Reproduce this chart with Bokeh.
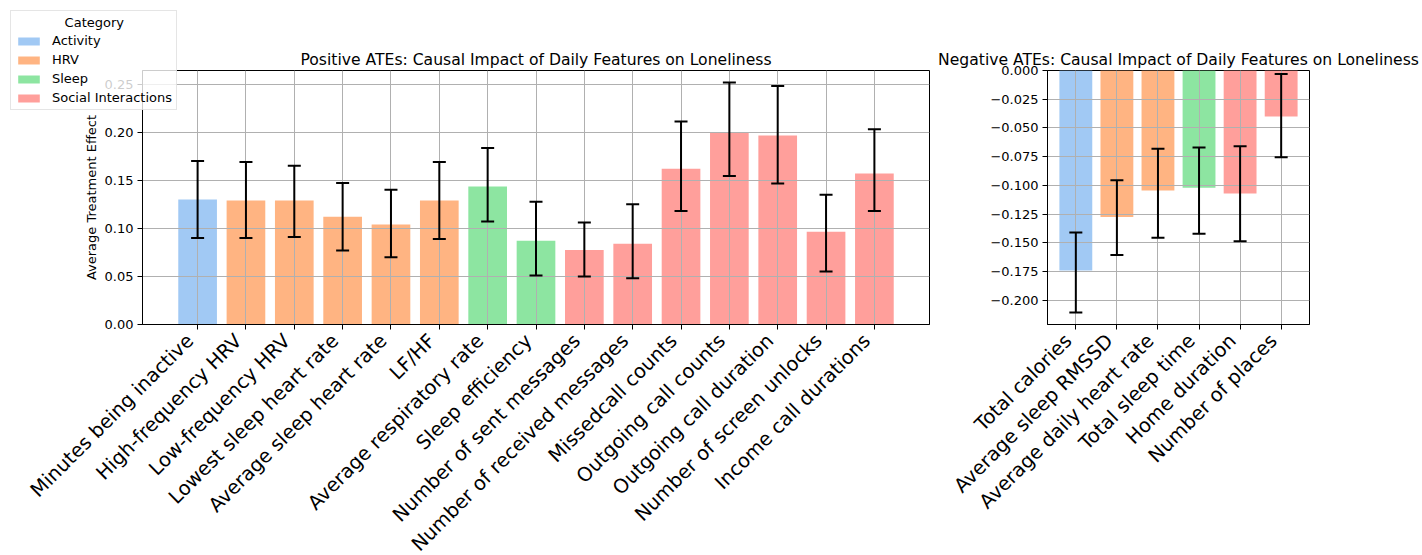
from math import pi

from bokeh.plotting import figure
from bokeh.models import (ColumnDataSource, Range1d, FixedTicker, Whisker, TeeHead,
                          CustomJSTickFormatter, GridBox, LinearAxis)
from bokeh.layouts import column
from bokeh.embed import file_html
from bokeh.resources import INLINE

# ---------------- data ----------------
pos_features = ["Minutes being inactive", "High-frequency HRV", "Low-frequency HRV",
                "Lowest sleep heart rate", "Average sleep heart rate", "LF/HF",
                "Average respiratory rate", "Sleep efficiency", "Number of sent messages",
                "Number of received messages", "Missedcall counts", "Outgoing call counts",
                "Outgoing call duration", "Number of screen unlocks", "Income call durations"]
pos_categories = ["Activity", "HRV", "HRV", "HRV", "HRV", "HRV", "Sleep", "Sleep",
                  "Social Interactions", "Social Interactions", "Social Interactions",
                  "Social Interactions", "Social Interactions", "Social Interactions",
                  "Social Interactions"]
pos_ate = [0.130, 0.129, 0.129, 0.112, 0.104, 0.129, 0.1435, 0.087, 0.0775, 0.084,
           0.162, 0.199, 0.1965, 0.0965, 0.157]
pos_lower = [0.090, 0.090, 0.091, 0.077, 0.070, 0.089, 0.107, 0.051, 0.050, 0.048,
             0.118, 0.1545, 0.1465, 0.055, 0.118]
pos_upper = [0.170, 0.169, 0.165, 0.147, 0.140, 0.169, 0.1835, 0.1275, 0.106, 0.125,
             0.211, 0.2515, 0.248, 0.135, 0.203]

neg_features = ["Total calories", "Average sleep RMSSD", "Average daily heart rate",
                "Total sleep time", "Home duration", "Number of places"]
neg_categories = ["Activity", "HRV", "HRV", "Sleep", "Social Interactions",
                  "Social Interactions"]
neg_ate = [-0.174, -0.1275, -0.1045, -0.102, -0.107, -0.040]
neg_lower = [-0.2105, -0.1605, -0.1455, -0.142, -0.1485, -0.0755]
neg_upper = [-0.141, -0.0955, -0.068, -0.067, -0.066, -0.003]

legend_categories = ["Activity", "HRV", "Sleep", "Social Interactions"]

pos_yticks = [0.0, 0.05, 0.10, 0.15, 0.20, 0.25]
neg_yticks = [0.0, -0.025, -0.05, -0.075, -0.10, -0.125, -0.15, -0.175, -0.20]

# ---------------- style ----------------
PALETTE = {"Activity": "#a1c9f4", "HRV": "#ffb482", "Sleep": "#8de5a1",
           "Social Interactions": "#ff9f9b"}
FONT = "DejaVu Sans"
FIG_H = 553
TOP = 70
FRAME_H = 254
BOTTOM = FIG_H - TOP - FRAME_H
P1_W = 930
LABEL_SHIFT_PX = 7.5   # rotated labels end slightly left of their tick (matplotlib style)


def make_panel(features, categories, ate, lower, upper, y_range, yticks, decimals,
               title, frame_w, b_left, b_right):
    n = len(features)
    src = ColumnDataSource(dict(
        x=list(range(n)), ate=ate, lower=lower, upper=upper,
        category=categories, color=[PALETTE[c] for c in categories]))
    margin = 0.05 * (n - 1 + 0.8)
    x0, x1 = -0.4 - margin, n - 1 + 0.4 + margin
    p = figure(frame_width=frame_w, frame_height=FRAME_H,
               min_border_left=b_left, min_border_right=b_right,
               min_border_top=TOP, min_border_bottom=BOTTOM,
               x_range=Range1d(x0, x1),
               y_range=y_range, output_backend="svg", toolbar_location=None,
               title=title)
    p.background_fill_color = "white"
    p.border_fill_color = "white"
    p.outline_line_color = "black"
    p.outline_line_width = 1
    p.outline_line_alpha = 1

    r = p.vbar(x="x", top="ate", bottom=0, width=0.8, source=src, color="color",
               line_color=None)
    r.level = "underlay"

    w = Whisker(source=src, base="x", upper="upper", lower="lower", dimension="height",
                line_color="black", line_width=2, level="annotation",
                upper_head=TeeHead(size=13, line_color="black", line_width=2),
                lower_head=TeeHead(size=13, line_color="black", line_width=2))
    p.add_layout(w)

    ticker = FixedTicker(ticks=list(range(n)))
    # main x axis: line + tick marks only
    xa = p.xaxis[0]
    xa.ticker = ticker
    xa.major_label_overrides = {i: "" for i in range(n)}
    xa.major_label_text_font_size = "0px"
    xa.major_label_standoff = 0

    # label axis on a slightly shifted range so labels end just left of each tick
    shift = LABEL_SHIFT_PX * (x1 - x0) / frame_w
    p.extra_x_ranges = {"lbl": Range1d(x0 + shift, x1 + shift)}
    la = LinearAxis(x_range_name="lbl", ticker=ticker,
                    major_label_overrides={i: f for i, f in enumerate(features)},
                    major_label_orientation=pi / 4,
                    major_label_text_font=FONT, major_label_text_font_size="19.5px",
                    major_label_text_color="black", major_label_standoff=8,
                    axis_line_color=None, major_tick_line_color=None,
                    minor_tick_line_color=None, major_tick_in=0, major_tick_out=0)
    p.add_layout(la, "below")

    p.yaxis.ticker = FixedTicker(ticks=yticks)
    p.yaxis.formatter = CustomJSTickFormatter(code=f"""
        const s = Math.abs(tick).toFixed({decimals});
        return (tick < -1e-12 ? '\\u2212' : '') + s;""")
    p.yaxis.major_label_text_font_size = "13px"
    p.yaxis.major_label_standoff = 4
    for ax in (xa, p.yaxis[0]):
        ax.major_label_text_font = FONT
        ax.major_label_text_color = "black"
        ax.axis_line_color = "black"
        ax.axis_line_width = 1
        ax.major_tick_line_color = "black"
        ax.major_tick_in = 0
        ax.major_tick_out = 5
        ax.minor_tick_line_color = None

    for g in (p.xgrid[0], p.ygrid[0]):
        g.grid_line_color = "#b0b0b0"
        g.grid_line_width = 1
        g.level = "glyph"

    p.title.text_font = FONT
    p.title.text_font_size = "15.6px"
    p.title.text_font_style = "normal"
    p.title.text_color = "black"
    p.title.align = "center"
    p.title.standoff = 3
    return p


p1 = make_panel(pos_features, pos_categories, pos_ate, pos_lower, pos_upper,
                Range1d(0, max(pos_upper) * 1.05), pos_yticks, 2,
                "Positive ATEs: Causal Impact of Daily Features on Loneliness",
                787, 142, 1)
p1.yaxis.axis_label = "Average Treatment Effect"
p1.yaxis.axis_label_text_font = FONT
p1.yaxis.axis_label_text_font_size = "13px"
p1.yaxis.axis_label_text_font_style = "normal"
p1.yaxis.axis_label_text_color = "black"
p1.yaxis.axis_label_standoff = 3

p2 = make_panel(neg_features, neg_categories, neg_ate, neg_lower, neg_upper,
                Range1d(min(neg_lower) * 1.05, 0), neg_yticks, 3,
                "Negative ATEs: Causal Impact of Daily Features on Loneliness",
                262, 117, 113)

# transparent overlay (frame = whole figure) holding the legend, which in the
# reference overlaps the left panel's axis area
pleg = figure(width=P1_W, height=FIG_H, min_border=0,
              x_axis_location=None, y_axis_location=None,
              x_range=Range1d(0, 1), y_range=Range1d(0, 1),
              output_backend="svg", toolbar_location=None)
pleg.grid.visible = False
pleg.outline_line_color = None
pleg.background_fill_alpha = 0
pleg.border_fill_alpha = 0
leg_src = ColumnDataSource(dict(category=legend_categories,
                                color=[PALETTE[c] for c in legend_categories],
                                zero=[0.0] * len(legend_categories)))
pleg.vbar(x="zero", top="zero", bottom="zero", width=0.0, source=leg_src,
          color="color", line_color=None, legend_field="category")
leg = pleg.legend[0]
leg.location = "top_left"
leg.margin = 10
leg.title = "\u00a0" * 12 + "Category"
leg.title_text_font = FONT
leg.title_text_font_size = "13px"
leg.title_text_font_style = "normal"
leg.title_text_color = "black"
leg.title_standoff = 3
leg.label_text_font = FONT
leg.label_text_font_size = "13px"
leg.label_text_color = "black"
leg.glyph_width = 27
leg.glyph_height = 10
leg.label_height = 15
leg.label_standoff = 10
leg.spacing = 4
leg.padding = 4
leg.border_line_color = "#cccccc"
leg.border_line_width = 1
leg.background_fill_alpha = 0.8

layout = GridBox(children=[(p1, 0, 0), (column(pleg), 0, 0), (p2, 0, 1)])
open("out.html", "w").write(file_html(layout, INLINE))
